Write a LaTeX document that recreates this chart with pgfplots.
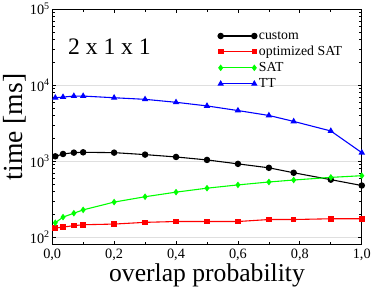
\documentclass[border=0pt]{standalone}
\usepackage{fontspec}
\setmainfont{Liberation Serif}
\usepackage{pgfplots}
\pgfplotsset{compat=1.18}
\begin{document}
\begin{tikzpicture}
\begin{axis}[
  scale only axis,
  width=313bp, height=238bp,
  xmin=0, xmax=1,
  ymode=log, ymin=80, ymax=100000,
  xtick={0,0.2,0.4,0.6,0.8,1.0},
  xticklabels={{0,0},{0,2},{0,4},{0,6},{0,8},{1,0}},
  minor x tick num=1,
  ytick={100,1000,10000,100000},
  yticklabels={10\textsuperscript{2},10\textsuperscript{3},10\textsuperscript{4},10\textsuperscript{5}},
  tick align=inside,
  major tick length=4bp, minor tick length=2.5bp,
  ymajorgrids, major grid style={gray!25, line width=1bp},
  axis line style={line width=1.3bp},
  every tick/.style={black, line width=0.8bp},
  tick label style={font=\fontsize{14.5}{16}\selectfont},
  xticklabel style={yshift=-1bp},
  yticklabel style={xshift=1bp},
  /pgf/number format/assume math mode=true,
  xlabel={overlap probability},
  ylabel={time [ms]},
  xlabel style={font=\fontsize{26}{28}\selectfont, yshift=4bp},
  ylabel style={font=\fontsize{28}{30}\selectfont, yshift=-3bp},
  legend style={draw=none, fill=none, at={(0.535,0.915)}, anchor=north west,
     font=\fontsize{14}{14}\selectfont, row sep=1.5bp, inner sep=0pt,
     /tikz/every even column/.append style={column sep=2bp}},
  legend cell align=left,
  legend image code/.code={\draw[#1] plot coordinates {(0bp,0bp) (34bp,0bp)};},
  every axis plot/.append style={line width=1.1bp},
]
\addplot[black, mark=*, mark size=2.7bp] coordinates {
 (0.01,1160) (0.035,1245) (0.07,1297) (0.1,1310) (0.2,1297) (0.3,1222) (0.4,1138)
 (0.5,1040) (0.6,923) (0.7,819) (0.78,705) (0.9,572) (1.0,479)};
\addlegendentry{custom}
\addplot[red, mark=square*, mark size=2.3bp] coordinates {
 (0.01,132) (0.035,136) (0.07,142) (0.1,146) (0.2,149) (0.3,157) (0.4,161)
 (0.5,161) (0.6,161) (0.7,171) (0.78,171) (0.9,175) (1.0,175)};
\addlegendentry{optimized SAT}
\addplot[green, mark=diamond*, mark size=2.5bp] coordinates {
 (0.01,155) (0.035,184) (0.07,207) (0.1,229) (0.2,290) (0.3,341) (0.4,392)
 (0.5,442) (0.6,488) (0.7,533) (0.78,566) (0.9,613) (1.0,645)};
\addlegendentry{SAT}
\addplot[blue, mark=triangle*, mark size=2.7bp] coordinates {
 (0.01,6840) (0.035,6980) (0.07,7200) (0.1,7200) (0.2,6840) (0.3,6520) (0.4,5960)
 (0.5,5340) (0.6,4640) (0.7,4000) (0.78,3340) (0.9,2500) (1.0,1296)};
\addlegendentry{TT}
\node[font=\fontsize{24}{26}\selectfont, anchor=west] at (rel axis cs:0.04,0.84) {2 x 1 x 1};
\end{axis}
\end{tikzpicture}
\end{document}
